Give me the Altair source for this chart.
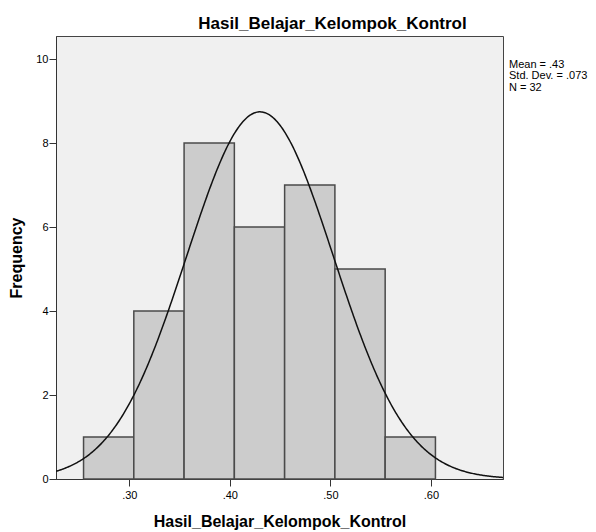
import altair as alt
import pandas as pd

# --- data ---
bin_start = [0.2545, 0.3045, 0.3545, 0.4045, 0.4545, 0.5045, 0.5545]
bin_end = [0.3045, 0.3545, 0.4045, 0.4545, 0.5045, 0.5545, 0.6045]
frequency = [1, 4, 8, 6, 7, 5, 1]
x_ticks = [0.30, 0.40, 0.50, 0.60]
y_ticks = [0, 2, 4, 6, 8, 10]
MEAN = 0.43
SD = 0.073
N = 32
BIN_WIDTH = 0.05
x_domain = [0.2271, 0.6717]
y_domain = [0, 10.55]
title_text = "Hasil_Belajar_Kelompok_Kontrol"
stats_text = ["Mean = .43", "Std. Dev. = .073", "N = 32"]

FONT = "Liberation Sans"
W, H = 447, 443

bars_df = pd.DataFrame({"start": bin_start, "end": bin_end, "count": frequency})

xscale = alt.Scale(domain=x_domain, nice=False, zero=False)
yscale = alt.Scale(domain=y_domain, nice=False, zero=False)

xaxis = alt.Axis(
    title=title_text, values=x_ticks, labelExpr="substring(format(datum.value, '.2f'), 1)",
    grid=False, tickSize=7, labelPadding=3, titlePadding=13,
    titleFont=FONT, titleFontSize=16, titleFontWeight="bold", titleColor="black",
    labelFont=FONT, labelFontSize=11, labelColor="black",
    domainColor="#333333", tickColor="#333333",
)
yaxis = alt.Axis(
    title="Frequency", values=y_ticks, format="d",
    grid=False, tickSize=7, labelPadding=1, titlePadding=11,
    titleFont=FONT, titleFontSize=16, titleFontWeight="bold", titleColor="black",
    labelFont=FONT, labelFontSize=11, labelColor="black",
    domainColor="#333333", tickColor="#333333",
)

bars = alt.Chart(bars_df).mark_rect(
    fill="#cccccc", stroke="#4a4a4a", strokeWidth=1.5
).encode(
    x=alt.X("start:Q", scale=xscale, axis=xaxis),
    x2="end:Q",
    y=alt.Y("count:Q", scale=yscale, axis=yaxis),
    y2=alt.datum(0),
)

curve = alt.Chart(alt.sequence(x_domain[0], x_domain[1] + 0.0005, 0.001, as_="xv")).transform_calculate(
    dens=f"{N}*{BIN_WIDTH}*exp(-0.5*pow((datum.xv-{MEAN})/{SD},2))/({SD}*sqrt(2*PI))"
).mark_line(color="#111111", strokeWidth=1.5, clip=True).encode(
    x=alt.X("xv:Q", scale=xscale),
    y=alt.Y("dens:Q", scale=yscale),
)

stats = alt.Chart(pd.DataFrame({"t": ["\n".join(stats_text)]})).mark_text(
    align="left", baseline="top", font=FONT, fontSize=11, lineHeight=11.3,
    color="black", lineBreak="\n",
).encode(
    text="t:N", x=alt.value(W + 6), y=alt.value(23),
)

chart = alt.layer(bars, curve, stats).properties(
    width=W, height=H,
    title=alt.TitleParams(
        title_text, font=FONT, fontSize=17, fontWeight="bold", color="black",
        anchor="middle", frame="group", dx=53, offset=-14, baseline="bottom",
    ),
    padding={"left": 48, "top": 28, "right": 85, "bottom": 52},
    autosize=alt.AutoSizeParams(type="none"),
    background="white",
).configure_view(
    fill="#f0f0f0", stroke="#444444", strokeWidth=1
)

chart.save("out.html", embed_options={"renderer": "svg", "actions": False})
